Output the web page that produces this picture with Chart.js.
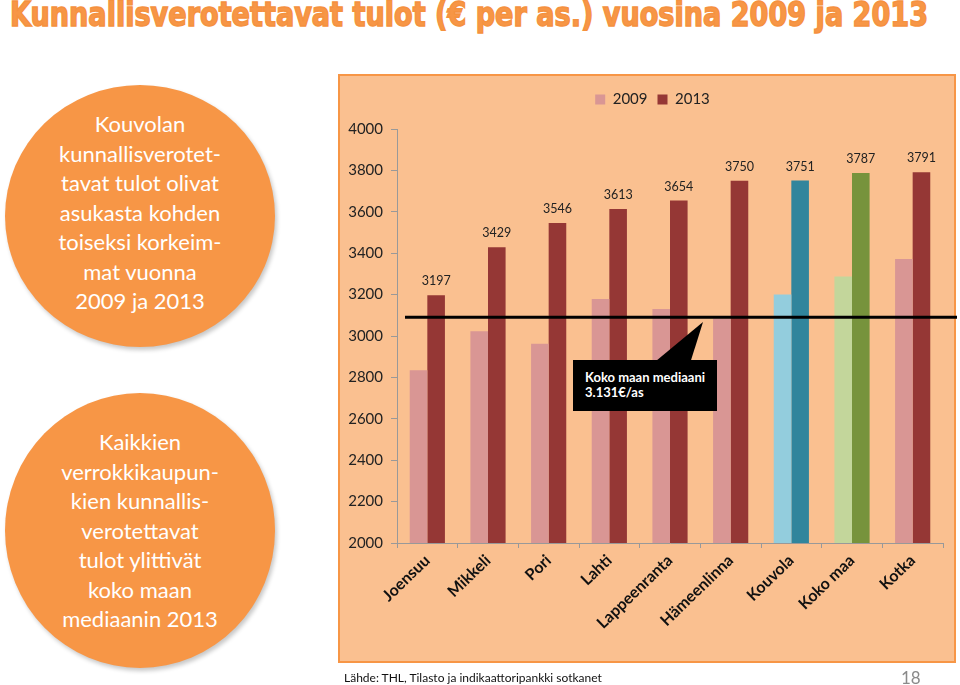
<!DOCTYPE html>
<html>
<head>
<meta charset="utf-8">
<script src="https://cdn.jsdelivr.net/npm/chart.js@4.4.1/dist/chart.umd.min.js"></script>
<style>
html,body{margin:0;padding:0;background:#fff;}
body{width:960px;height:685px;position:relative;overflow:hidden;font-family:Lato,sans-serif;}
#title{position:absolute;left:10px;top:-2px;white-space:nowrap;font-family:"DejaVu Sans Condensed",sans-serif;font-weight:bold;font-size:33px;line-height:33px;color:#F79646;-webkit-text-stroke:1.4px #F5913E;transform-origin:0 0;}
.bubble{position:absolute;border-radius:50%;background:#F79646;color:#fff;display:flex;align-items:center;justify-content:center;text-align:center;font-size:22px;line-height:29.5px;box-shadow:2px 3px 4px rgba(0,0,0,.22);}
#panel{position:absolute;left:338px;top:74px;width:618px;height:589px;background:#FAC090;border:2px solid #F79646;box-sizing:border-box;}
#chart{position:absolute;left:0;top:0;}
#callout{position:absolute;left:573px;top:360px;width:144px;height:51px;background:#000;color:#fff;font-weight:bold;font-size:13px;line-height:15px;box-sizing:border-box;padding:10px 0 0 12px;}
#pointer{position:absolute;left:656px;top:322px;width:47px;height:39px;background:#000;clip-path:polygon(0 100%,100% 0,74% 100%);}
#source{position:absolute;left:344px;top:670px;font-size:12px;line-height:16px;color:#111;}
#page{position:absolute;left:901px;top:668px;font-size:17px;line-height:20px;color:#8a8a8a;}
</style>
</head>
<body>
<div id="title">Kunnallisverotettavat tulot (€ per as.) vuosina 2009 ja 2013</div>
<div class="bubble" style="left:5px;top:85px;width:270px;height:262px;"><div style="margin-bottom:7px">Kouvolan<br>kunnallisverotet-<br>tavat tulot olivat<br>asukasta kohden<br>toiseksi korkeim-<br>mat vuonna<br>2009 ja 2013</div></div>
<div class="bubble" style="left:5px;top:393px;width:270px;height:275px;"><div>Kaikkien<br>verrokkikaupun-<br>kien kunnallis-<br>verotettavat<br>tulot ylittivät<br>koko maan<br>mediaanin 2013</div></div>
<div id="panel"></div>
<canvas id="chart" width="960" height="685"></canvas>
<div id="pointer"></div>
<div id="callout">Koko maan mediaani<br>3.131€/as</div>
<div id="source">Lähde: THL, Tilasto ja indikaattoripankki sotkanet</div>
<div id="page">18</div>
<script>
// data
const cities = ['Joensuu','Mikkeli','Pori','Lahti','Lappeenranta','Hämeenlinna','Kouvola','Koko maa','Kotka'];
const tulot2009 = [2834, 3023, 2962, 3179, 3131, 3085, 3200, 3288, 3372];
const tulot2013 = [3197, 3429, 3546, 3613, 3654, 3750, 3751, 3787, 3791];
const yTicks = [2000, 2200, 2400, 2600, 2800, 3000, 3200, 3400, 3600, 3800, 4000];
const medianLine = 3090; // where the black line sits on the slide

const colors2009 = ['#D99694','#D99694','#D99694','#D99694','#D99694','#D99694','#93CDDD','#C3D69B','#D99694'];
const colors2013 = ['#953735','#953735','#953735','#953735','#953735','#953735','#31859C','#77933C','#953735'];

// title: stretch to slide width
const t = document.getElementById('title');
t.style.transform = 'scaleX(' + (918 / t.getBoundingClientRect().width) + ')';

Chart.defaults.font.family = 'Lato, sans-serif';

// legend needs more room below it, and sits a bit right of centre
const legendSpace = {
  id:'legendSpace',
  beforeInit(chart){
    const fit = chart.legend.fit;
    chart.legend.fit = function(){ fit.bind(chart.legend)(); this.height += 12; };
  },
  afterLayout(chart){ chart.legend.left += 12; chart.legend.right += 12; }
};

const medianPlugin = {
  id:'median',
  afterDatasetsDraw(chart){
    const ctx = chart.ctx, y = chart.scales.y.getPixelForValue(medianLine);
    ctx.save();
    ctx.strokeStyle = '#000'; ctx.lineWidth = 3;
    ctx.beginPath(); ctx.moveTo(chart.chartArea.left + 8, y); ctx.lineTo(957, y); ctx.stroke();
    // value labels for 2013
    ctx.fillStyle = '#222'; ctx.font = '12.5px Lato'; ctx.textAlign = 'center'; ctx.textBaseline = 'middle';
    chart.getDatasetMeta(1).data.forEach((bar, i) => ctx.fillText(tulot2013[i], bar.x, bar.y - 14));
    ctx.restore();
  }
};

new Chart(document.getElementById('chart'), {
  type:'bar',
  data:{
    labels:cities,
    datasets:[
      {label:'2009', data:tulot2009, backgroundColor:colors2009, categoryPercentage:0.58, barPercentage:1},
      {label:'2013', data:tulot2013, backgroundColor:colors2013, categoryPercentage:0.58, barPercentage:1}
    ]
  },
  options:{
    responsive:false,
    animation:false,
    layout:{padding:{left:338, right:17, top:82, bottom:42}},
    plugins:{
      legend:{position:'top', labels:{boxWidth:10, boxHeight:10, padding:10, color:'#222', font:{size:15}}},
      tooltip:{enabled:false}
    },
    scales:{
      x:{
        grid:{drawOnChartArea:false, tickLength:5, color:'#999', offset:true},
        border:{color:'#999'},
        ticks:{color:'#111', font:{size:16, weight:'bold'}, minRotation:44, maxRotation:44, autoSkip:false},
        afterFit(s){ s.height = 100; }
      },
      y:{
        min:2000, max:4000,
        afterBuildTicks(s){ s.ticks = yTicks.map(v => ({value:v})); },
        grid:{drawOnChartArea:false, tickLength:6, color:'#999'},
        border:{color:'#999'},
        ticks:{color:'#222', font:{size:15}, padding:8, callback:v => String(v)},
        afterFit(s){ s.width = 59; }
      }
    }
  },
  plugins:[legendSpace, medianPlugin]
});
</script>
</body>
</html>
